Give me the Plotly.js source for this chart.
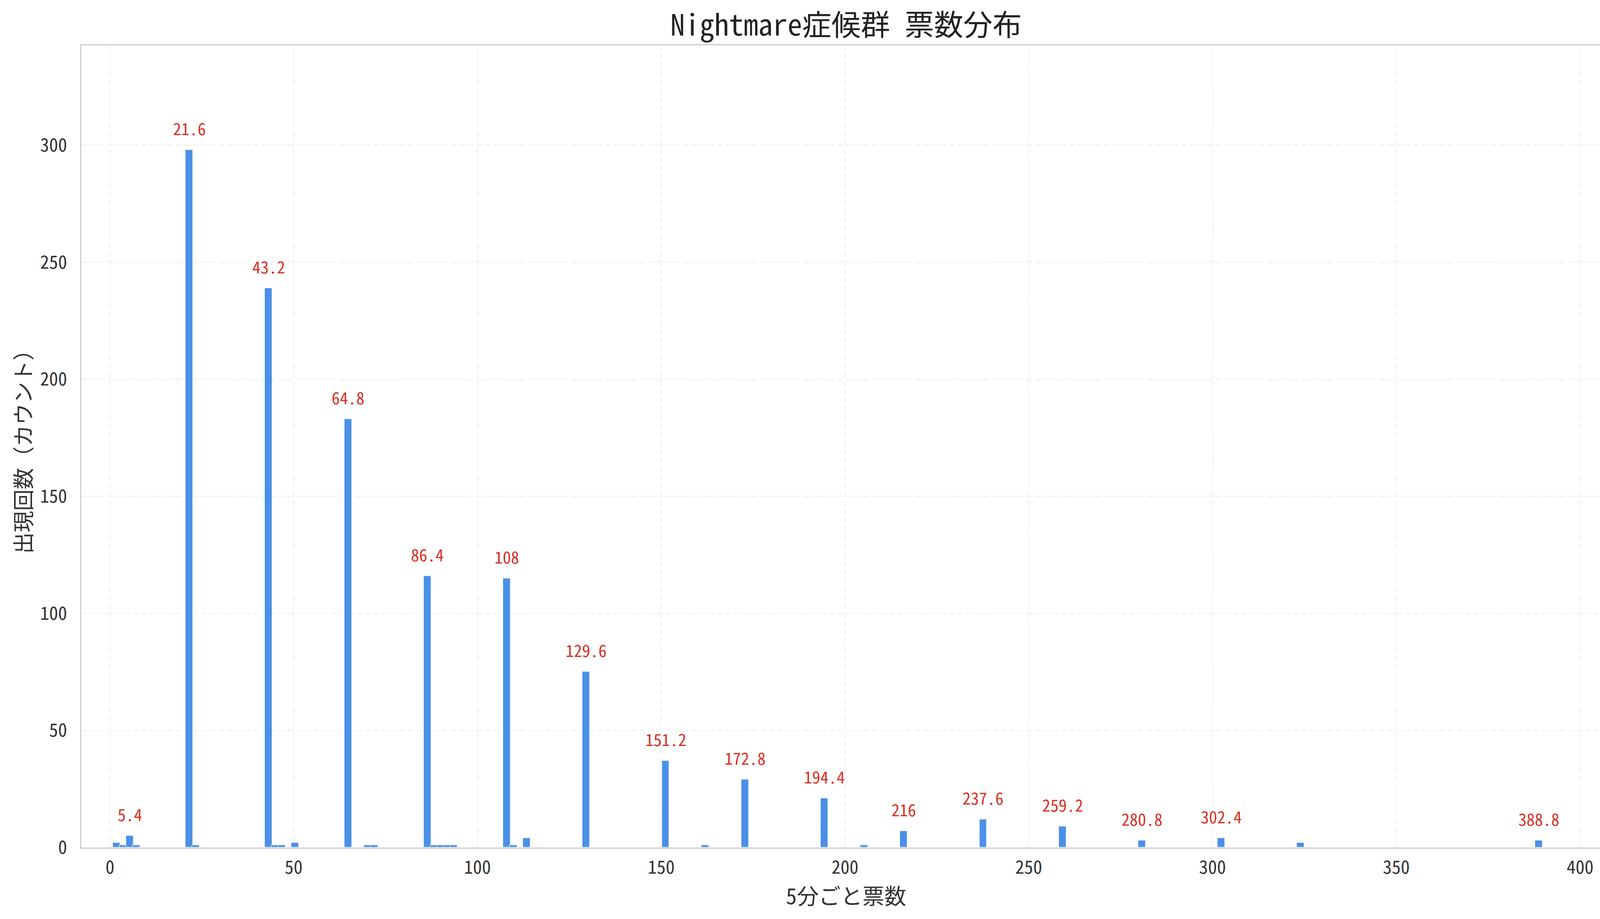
<!DOCTYPE html>
<html>
<head>
<meta charset="utf-8">
<script src="https://cdn.plot.ly/plotly-3.0.1.min.js"></script>
<style>
  body { margin: 0; background: #ffffff; }
  #graph { width: 4154px; height: 2353px; }
</style>
</head>
<body>
<div id="graph"></div>
<script>
//votes per 5 minutes (bar positions) and how often each one appears
const voteValues = [1.8, 3.6, 5.4, 7.2, 21.6, 23.4, 43.2, 45.0, 46.8, 50.4, 64.8, 70.2, 72.0,
  86.4, 88.2, 90.0, 91.8, 93.6, 108.0, 109.8, 113.4, 129.6, 151.2, 162.0, 172.8, 194.4,
  205.2, 216.0, 237.6, 259.2, 280.8, 302.4, 324.0, 388.8]
const counts = [2, 1, 5, 1, 298, 1, 239, 1, 1, 2, 183, 1, 1,
  116, 1, 1, 1, 1, 115, 1, 4, 75, 37, 1, 29, 21,
  1, 7, 12, 9, 3, 4, 2, 3]

//peaks that get a red value label
const labelValues = [5.4, 21.6, 43.2, 64.8, 86.4, 108, 129.6, 151.2, 172.8, 194.4,
  216, 237.6, 259.2, 280.8, 302.4, 388.8]

//axis ticks
const xTicks = [0, 50, 100, 150, 200, 250, 300, 350, 400]
const yTicks = [0, 50, 100, 150, 200, 250, 300]

const font = '"Noto Sans Mono CJK JP", "Noto Sans CJK JP", "Noto Sans", sans-serif'

//bars
const bars = {
  type: 'bar',
  x: voteValues,
  y: counts,
  width: 2,
  marker: {
    color: '#4a90e6',
    line: {color: 'rgba(255,255,255,0.75)', width: 1.5}
  },
  hoverinfo: 'x+y'
}

//red labels above the peaks, height taken from the matching bar
const annotations = labelValues.map(v => {
  const i = voteValues.findIndex(x => Math.abs(x - v) < 1e-6)
  return {
    x: v,
    y: counts[i],
    xref: 'x',
    yref: 'y',
    text: String(v),
    showarrow: false,
    yanchor: 'bottom',
    yshift: 24,
    font: {family: font, size: 42, color: '#d93025'}
  }
})

//grid and frame settings shared by both axes
const axisBase = {
  showgrid: true,
  gridcolor: '#f1f1f1',
  gridwidth: 3,
  griddash: '14px,8px',
  showline: true,
  mirror: true,
  linecolor: '#cccccc',
  linewidth: 3,
  zeroline: false,
  ticks: '',
  tickfont: {family: font, size: 46, color: '#333333'}
}

const layout = {
  width: 4154,
  height: 2353,
  paper_bgcolor: '#ffffff',
  plot_bgcolor: '#ffffff',
  margin: {l: 208, r: 30, t: 116, b: 183, pad: 0},
  showlegend: false,
  title: {
    text: 'Nightmare症候群 票数分布',
    font: {family: font, size: 75, color: '#222222'},
    x: 0.5,
    xref: 'paper',
    xanchor: 'center',
    y: 0.9725,
    yref: 'container',
    yanchor: 'middle'
  },
  xaxis: {
    ...axisBase,
    range: [-7.8, 408.4],
    tickvals: xTicks,
    ticktext: xTicks.map(String),
    ticklabelstandoff: 9,
    title: {
      text: '5分ごと票数',
      font: {family: font, size: 56, color: '#333333'},
      standoff: 0
    }
  },
  yaxis: {
    ...axisBase,
    range: [0, 342.7],
    tickvals: yTicks,
    ticktext: yTicks.map(String),
    ticklabelstandoff: 24,
    title: {
      text: '出現回数（カウント）',
      font: {family: font, size: 55, color: '#333333'},
      standoff: 5
    }
  },
  annotations: annotations,
  bargap: 0
}

const config = {
  displayModeBar: false,
  responsive: false
}

Plotly.newPlot(document.getElementById('graph'), [bars], layout, config)
</script>
</body>
</html>
